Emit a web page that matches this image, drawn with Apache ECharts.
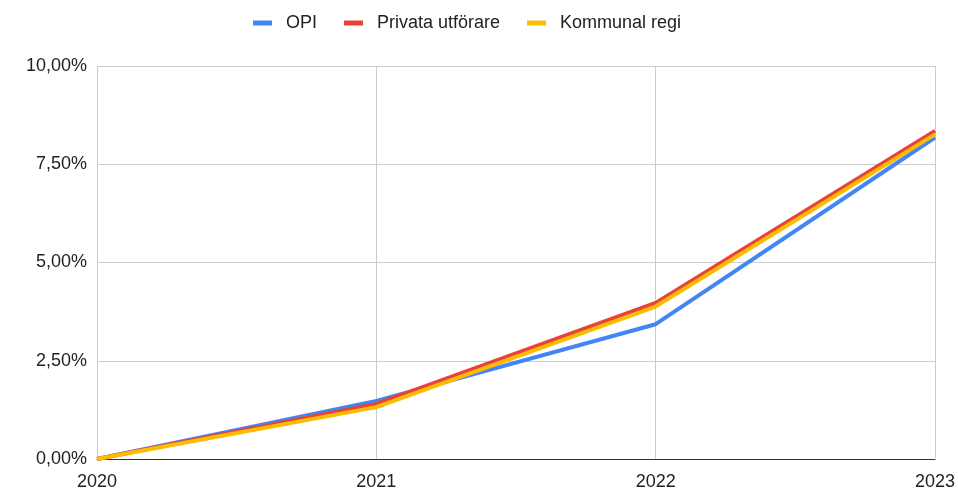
<!DOCTYPE html>
<html>
<head>
<meta charset="utf-8">
<script src="https://cdn.jsdelivr.net/npm/echarts@6/dist/echarts.min.js"></script>
<style>
  html, body { margin: 0; padding: 0; background: #fff; }
  #chart { width: 958px; height: 491px; }
</style>
</head>
<body>
<div id="chart"></div>
<script>
// Years on the x axis
const years = ['2020', '2021', '2022', '2023'];

// Cumulative change, in percent
const opi = [0, 1.48, 3.43, 8.18];
const privata = [0, 1.40, 3.97, 8.35];
const kommunal = [0, 1.32, 3.88, 8.26];

const seriesNames = ['OPI', 'Privata utförare', 'Kommunal regi'];
const seriesColors = ['#4285F4', '#EA4335', '#FBBC04'];
const seriesData = [opi, privata, kommunal];

const fmtPct = v => v.toFixed(2).replace('.', ',') + '%';
const font = '"Liberation Sans", Arial, sans-serif';

const chart = echarts.init(document.getElementById('chart'), null, { renderer: 'canvas' });

chart.setOption({
  animation: false,
  color: seriesColors,
  textStyle: { fontFamily: font },
  legend: {
    top: 9,
    left: 248,
    itemWidth: 19,
    itemHeight: 5,
    itemGap: 27,
    icon: 'rect',
    textStyle: { fontSize: 18, color: '#222', fontFamily: font, padding: [0, 0, 0, 9] },
    data: seriesNames
  },
  grid: { left: 97, right: 23, top: 66, bottom: 30, containLabel: false },
  xAxis: {
    type: 'category',
    data: years,
    boundaryGap: false,
    axisLine: { lineStyle: { color: '#333', width: 1 } },
    axisTick: { show: false },
    axisLabel: { fontSize: 18, color: '#222', margin: 14, fontFamily: font },
    splitLine: { show: true, lineStyle: { color: '#cccccc', width: 1 } }
  },
  yAxis: {
    type: 'value',
    min: 0,
    max: 10,
    interval: 2.5,
    axisLine: { show: false },
    axisTick: { show: false },
    axisLabel: { fontSize: 18, color: '#222', margin: 10, formatter: fmtPct, fontFamily: font },
    splitLine: { lineStyle: { color: '#cccccc', width: 1 } }
  },
  series: seriesNames.map((name, i) => ({
    name,
    type: 'line',
    data: seriesData[i],
    showSymbol: false,
    symbol: 'none',
    lineStyle: { width: 4, color: seriesColors[i] },
    itemStyle: { color: seriesColors[i] }
  }))
});
</script>
</body>
</html>
